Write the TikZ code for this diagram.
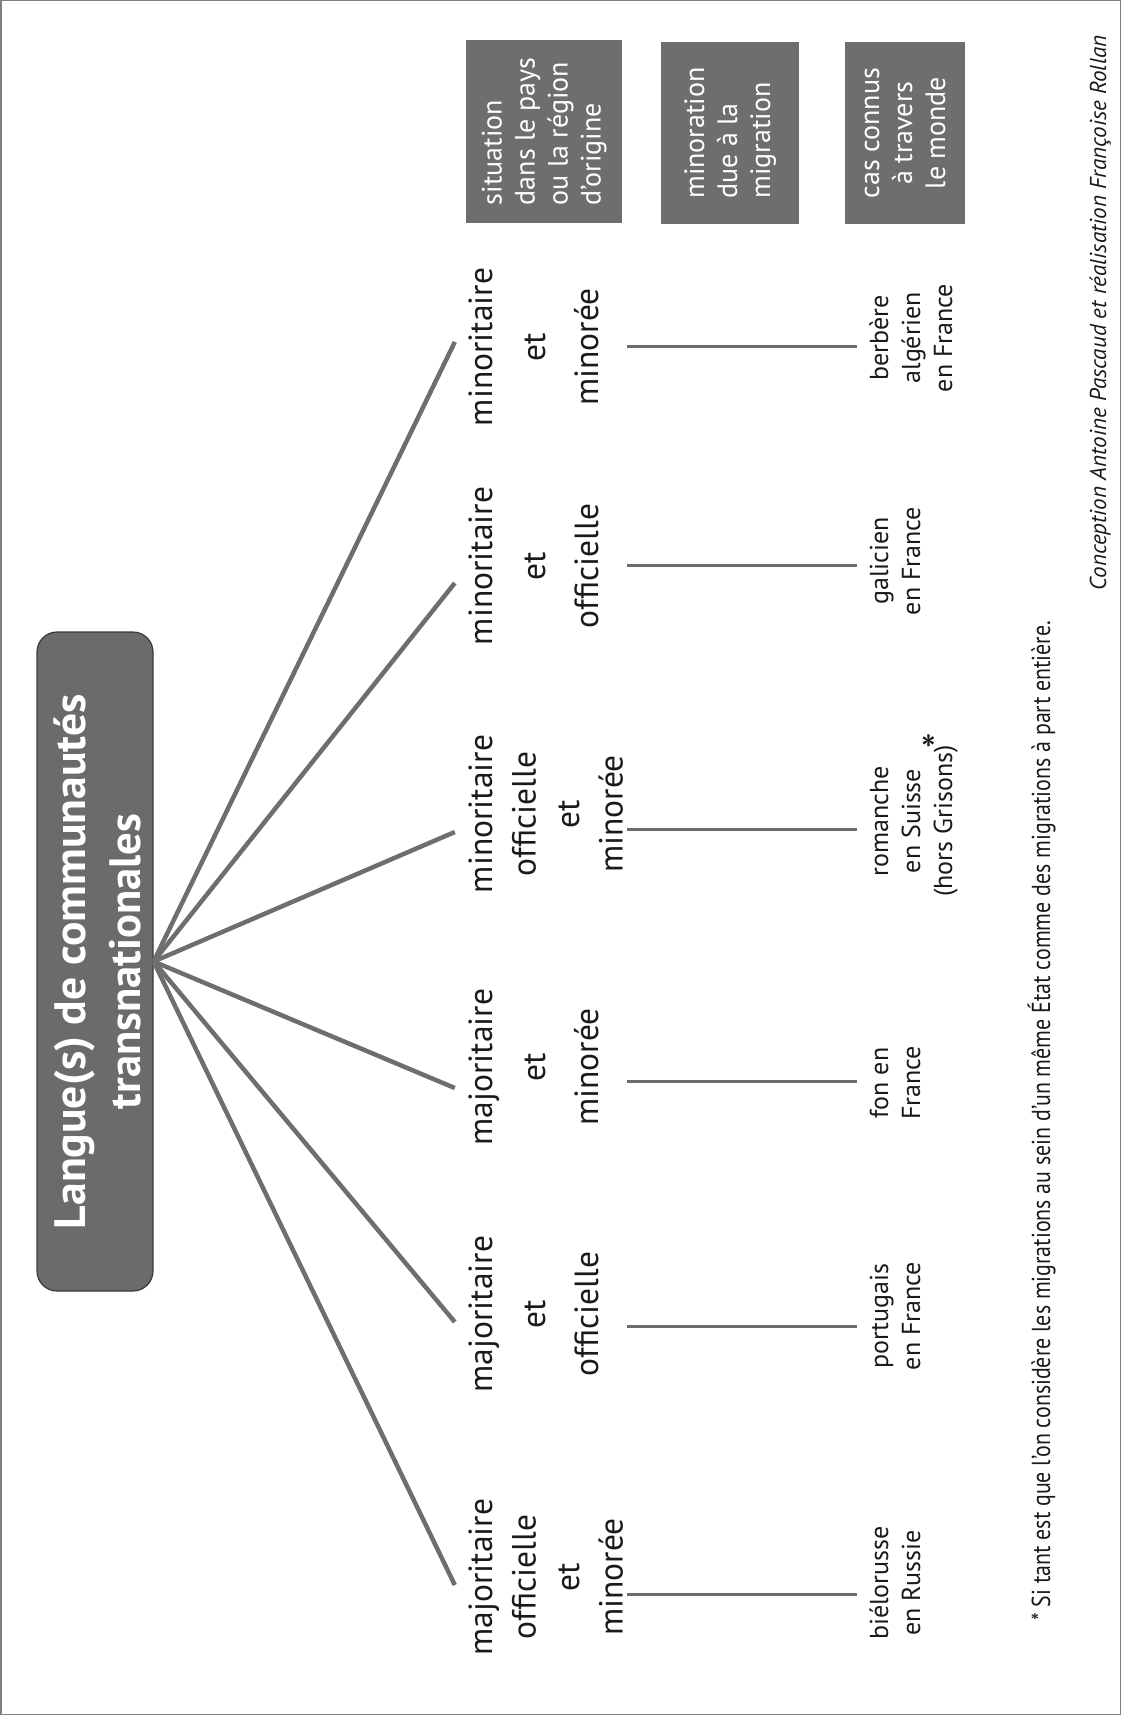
\documentclass[tikz,border=0pt]{standalone}
\usepackage{fontspec}
\usepackage{graphicx}
\setmainfont{PT Sans}
\definecolor{titlegray}{HTML}{6B6B6B}
\definecolor{titleborder}{HTML}{3A3A3A}
\definecolor{boxgray}{HTML}{6D6E70}
\definecolor{fangray}{HTML}{6E6E6E}
\definecolor{linkgray}{HTML}{6C6C6C}
\definecolor{txt}{HTML}{1A1A1A}
\definecolor{bordergray}{HTML}{808080}
\newcommand\cstrut{\rule[-7pt]{0pt}{32pt}}
\newcommand\estrut{\rule[-6pt]{0pt}{26pt}}
\newcommand\lstrut{\rule[-7pt]{0pt}{28pt}}
\tikzset{
  fanline/.style={draw=fangray, line width=4.5pt},
  linkline/.style={draw=linkgray, line width=3pt},
  catfour/.style={rotate=90, align=center, inner sep=12pt, text=txt, font=\fontsize{33.5}{43.5}\selectfont},
  catthree/.style={rotate=90, align=center, inner sep=12pt, text=txt, font=\fontsize{33.5}{53}\selectfont},
  example/.style={rotate=90, align=center, inner sep=11pt, text=txt, font=\fontsize{26}{32}\selectfont},
  legendbox/.style={rotate=90, fill=boxgray, text=white, inner sep=0pt, minimum width=182pt, font=\fontsize{28}{33}\selectfont},
  titlebox/.style={rotate=90, fill=titlegray, draw=titleborder, line width=1.2pt, rounded corners=20pt, text=white, align=center, inner sep=0pt, minimum width=659pt, minimum height=116pt, font=\bfseries\fontsize{44}{55}\selectfont},
  smalltext/.style={rotate=90, inner sep=0pt, text=txt}
}
\begin{document}
\begin{tikzpicture}[x=1pt,y=-1pt]
\useasboundingbox (0,0) rectangle (1121,1715);
\draw[bordergray, line width=1.5pt] (0.75,0.75) rectangle (1120.25,1714.25);

% title
\node[titlebox] (title) at (95,961.5) {\rule{0pt}{35pt}\smash{\resizebox{535pt}{\height}{Langue(s) de communautés}}\\\smash{\resizebox{295pt}{\height}{transnationales}}};

% categories
\node[catfour]  (c1) at (548.25,1577) {\cstrut majoritaire\\\cstrut officielle\\\cstrut et\\\cstrut minorée};
\node[catthree] (c2) at (536,1314) {\cstrut majoritaire\\\cstrut et\\\cstrut officielle};
\node[catthree] (c3) at (536,1067) {\cstrut majoritaire\\\cstrut et\\\cstrut minorée};
\node[catfour]  (c4) at (548.25,814) {\cstrut minoritaire\\\cstrut officielle\\\cstrut et\\\cstrut minorée};
\node[catthree] (c5) at (536,566) {\cstrut minoritaire\\\cstrut et\\\cstrut officielle};
\node[catthree] (c6) at (536,347) {\cstrut minoritaire\\\cstrut et\\\cstrut minorée};

% examples
\node[example] (e1) at (897,1583) {\estrut biélorusse\\\estrut en Russie};
\node[example] (e2) at (897,1316) {\estrut portugais\\\estrut en France};
\node[example] (e3) at (897,1083) {\estrut fon en\\\estrut France};
\node[example] (e4) at (913,821) {\estrut romanche\\\estrut en Suisse\\\estrut (hors Grisons)};
\node[example] (e5) at (897,561) {\estrut galicien\\\estrut en France};
\node[example] (e6) at (913,338) {\estrut berbère\\\estrut algérien\\\estrut en France};
\node[smalltext, font=\fontsize{44}{44}\selectfont] (ast) at (939,741) {*};

% fan
\draw[fanline] (title.south) -- ([yshift=-8pt]c1.north);
\draw[fanline] (title.south) -- ([yshift=-8pt]c2.north);
\draw[fanline] (title.south) -- ([yshift=-21pt]c3.north);
\draw[fanline] (title.south) -- ([yshift=-18pt]c4.north);
\draw[fanline] (title.south) -- ([yshift=-17pt]c5.north);
\draw[fanline] (title.south) -- ([yshift=5pt]c6.north);

% links
\coordinate (ls) at (627,0);
\draw[linkline] ([yshift=-11pt]e1.north -| ls) -- ([yshift=-11pt]e1.north);
\draw[linkline] ([yshift=-10pt]e2.north -| ls) -- ([yshift=-10pt]e2.north);
\draw[linkline] ([yshift=2pt]e3.north -| ls) -- ([yshift=2pt]e3.north);
\draw[linkline] ([yshift=-8pt]e4.north -| ls) -- ([yshift=-8pt]e4.north);
\draw[linkline] ([yshift=-4pt]e5.north -| ls) -- ([yshift=-4pt]e5.north);
\draw[linkline] ([yshift=-8pt]e6.north -| ls) -- ([yshift=-8pt]e6.north);

% legend boxes
\node[legendbox, minimum height=156pt, align=left] (l1) at (544,131.5) {\lstrut situation\\\lstrut dans le pays\\\lstrut ou la région\\\lstrut d'origine};
\node[legendbox, minimum height=138pt, align=left] (l2) at (730,133) {\lstrut minoration\\\lstrut due à la\\\lstrut migration};
\node[legendbox, minimum height=120pt, align=center] (l3) at (905,133) {\lstrut cas connus\\\lstrut à travers\\\lstrut le monde};

% footnote and credit
\node[smalltext, anchor=base west, font=\fontsize{26}{28}\selectfont] (fn) at (1050,1621) {\resizebox{1000pt}{\height}{* Si tant est que l'on considère les migrations au sein d'un même État comme des migrations à part entière.}};
\node[smalltext, anchor=base east, font=\itshape\fontsize{23}{26}\selectfont] (credit) at (1106,35) {\resizebox{555pt}{\height}{Conception Antoine Pascaud et réalisation Françoise Rollan}};
\end{tikzpicture}
\end{document}
